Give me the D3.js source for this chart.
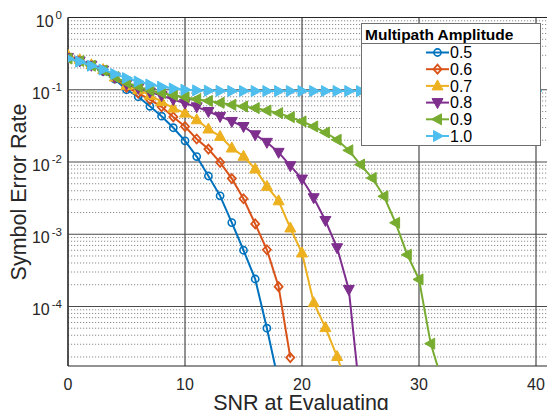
<!DOCTYPE html>
<html lang="en">
<head>
    <meta charset="UTF-8">
    <title>Symbol Error Rate vs SNR</title>
    <script src="https://d3js.org/d3.v7.min.js"></script>
    <style>
        body { margin: 0; background: #fff; }
        svg { display: block; font-family: "Liberation Sans", Arial, sans-serif; }
        .major { stroke: #4a4a4a; stroke-width: 1.2; }
        .minor { stroke: #8c8c8c; stroke-width: 1; stroke-dasharray: 1.2 1.8; }
        .tick-label { font-size: 16px; fill: #262626; }
        .axis-title { font-size: 21.5px; fill: #262626; }
    </style>
</head>
<body>
    <svg width="547" height="410"></svg>

    <script>
        // Series data: symbol error rate at SNR = 0, 1, 2, ... dB
        const amplitudes = ["0.5", "0.6", "0.7", "0.8", "0.9", "1.0"];

        const ser05 = [0.28, 0.25, 0.215, 0.18, 0.14, 0.1, 0.08, 0.059, 0.043, 0.0298,
            0.0196, 0.0119, 0.0064, 0.0034, 0.00145, 0.0006, 0.00024, 0.00005, 0.000009];
        const ser06 = [0.29, 0.255, 0.22, 0.185, 0.145, 0.108, 0.09, 0.073, 0.058, 0.042,
            0.031, 0.0208, 0.0151, 0.0099, 0.0059, 0.0031, 0.00139, 0.00061, 0.000188, 0.0000196];
        const ser07 = [0.3, 0.26, 0.222, 0.19, 0.15, 0.115, 0.1, 0.084, 0.0687, 0.0557,
            0.0475, 0.0384, 0.0286, 0.0226, 0.0156, 0.012, 0.008, 0.0046, 0.0029, 0.00122,
            0.00055, 0.000113, 0.000051, 0.0000203, 0.000007];
        const ser08 = [0.28, 0.25, 0.218, 0.187, 0.15, 0.12, 0.105, 0.093, 0.083, 0.073,
            0.065, 0.058, 0.05, 0.0427, 0.0364, 0.031, 0.0238, 0.0187, 0.0136, 0.0089,
            0.0058, 0.0032, 0.00155, 0.00065, 0.000172, 0.000005];
        const ser09 = [0.27, 0.25, 0.215, 0.185, 0.15, 0.125, 0.11, 0.098, 0.09, 0.084,
            0.079, 0.074, 0.07, 0.066, 0.0618, 0.0586, 0.0557, 0.0516, 0.0475, 0.0418,
            0.0364, 0.031, 0.0256, 0.0203, 0.0145, 0.0092, 0.006, 0.00335, 0.00144, 0.00052,
            0.000237, 0.0000306, 0.000009];
        const ser10 = [0.27, 0.245, 0.215, 0.19, 0.165, 0.145, 0.13, 0.118, 0.11, 0.104,
            0.1, 0.098, 0.097, 0.0965, 0.096, 0.0962, 0.096, 0.0958, 0.096, 0.0961,
            0.096, 0.0959, 0.096, 0.0961, 0.096, 0.0958, 0.096, 0.0961, 0.096, 0.0959,
            0.096, 0.096, 0.0961, 0.096, 0.0959, 0.096, 0.0961, 0.096, 0.096, 0.0959, 0.096];

        const allSeries = [ser05, ser06, ser07, ser08, ser09, ser10];

        const xTicks = [0, 10, 20, 30, 40];
        const yTicks = [1e0, 1e-1, 1e-2, 1e-3, 1e-4];
        const yTickExp = ["0", "-1", "-2", "-3", "-4"];

        const colors = ["#0072BD", "#D95319", "#EDB120", "#7E2F8E", "#77AC30", "#4DBEEE"];
        const markers = ["circle", "diamond", "triUp", "triDown", "triLeft", "triRight"];

        const svg = d3.select("svg");

        const x = d3.scaleLinear().domain([0, 45]).range([68, 68 + 45 * 11.7]);
        const y = d3.scaleLog().domain([1.5e-5, 1]).range([366, 17.5]);
        const pLeft = x(0), pRight = 547, pTop = y(1), pBottom = y.range()[0];

        // minor grid (dotted, y only)
        const minors = [];
        for (let e = -5; e < 0; e++) {
            for (let k = 2; k <= 9; k++) {
                const v = k * Math.pow(10, e);
                if (v > 1.5e-5 && v < 1) minors.push(v);
            }
        }
        svg.append("g").selectAll("line")
            .data(minors)
            .enter().append("line")
            .attr("class", "minor")
            .attr("x1", pLeft).attr("x2", pRight)
            .attr("y1", d => y(d)).attr("y2", d => y(d));

        // major grid
        svg.append("g").selectAll("line")
            .data(yTicks)
            .enter().append("line")
            .attr("class", "major")
            .attr("x1", pLeft).attr("x2", pRight)
            .attr("y1", d => y(d)).attr("y2", d => y(d));
        svg.append("g").selectAll("line")
            .data(xTicks)
            .enter().append("line")
            .attr("class", "major")
            .attr("x1", d => x(d)).attr("x2", d => x(d))
            .attr("y1", pTop).attr("y2", pBottom);

        // axis box
        svg.append("line").attr("x1", pLeft).attr("x2", pLeft).attr("y1", pTop).attr("y2", pBottom)
            .attr("stroke", "#262626").attr("stroke-width", 1.2);
        svg.append("line").attr("x1", pLeft).attr("x2", pRight).attr("y1", pBottom).attr("y2", pBottom)
            .attr("stroke", "#262626").attr("stroke-width", 1.2);
        svg.append("line").attr("x1", pLeft).attr("x2", pRight).attr("y1", pTop).attr("y2", pTop)
            .attr("stroke", "#262626").attr("stroke-width", 1.2);

        // tick labels
        svg.append("g").selectAll("text")
            .data(xTicks)
            .enter().append("text")
            .attr("class", "tick-label")
            .attr("x", d => x(d)).attr("y", pBottom + 24)
            .attr("text-anchor", "middle")
            .text(d => d);

        const yl = svg.append("g").selectAll("text")
            .data(yTicks)
            .enter().append("text")
            .attr("class", "tick-label")
            .attr("x", 62).attr("y", d => y(d) + 9)
            .attr("text-anchor", "end");
        yl.append("tspan").text("10");
        yl.append("tspan").attr("dx", 2).attr("dy", -7.5).style("font-size", "11.5px")
            .text((d, i) => yTickExp[i]);

        // axis titles
        svg.append("text").attr("class", "axis-title")
            .attr("x", x(20) - 1).attr("y", 409.5)
            .attr("text-anchor", "middle")
            .text("SNR at Evaluating");
        svg.append("text").attr("class", "axis-title")
            .attr("transform", "translate(26,192) rotate(-90)")
            .attr("text-anchor", "middle")
            .text("Symbol Error Rate");

        // marker shapes
        function markerPath(type) {
            switch (type) {
                case "diamond": return "M0,-4.5L4,0L0,4.5L-4,0Z";
                case "triUp": return "M0,-6L5.5,4L-5.5,4Z";
                case "triDown": return "M0,6L5.5,-4L-5.5,-4Z";
                case "triLeft": return "M-6,0L4,-5.5L4,5.5Z";
                case "triRight": return "M6,0L-4,-5.5L-4,5.5Z";
            }
            return null;
        }
        function drawMarker(g, type, color) {
            if (type === "circle") {
                g.append("circle").attr("r", 3.6)
                    .attr("fill", "none").attr("stroke", color).attr("stroke-width", 1.6);
            } else if (type === "diamond") {
                g.append("path").attr("d", markerPath(type))
                    .attr("fill", "none").attr("stroke", color).attr("stroke-width", 1.8);
            } else {
                g.append("path").attr("d", markerPath(type))
                    .attr("fill", color).attr("stroke", color).attr("stroke-width", 1);
            }
        }

        svg.append("defs").append("clipPath").attr("id", "plotclip")
            .append("rect").attr("x", pLeft).attr("y", pTop - 10)
            .attr("width", pRight - pLeft).attr("height", pBottom - pTop + 10);

        const plot = svg.append("g").attr("clip-path", "url(#plotclip)");
        const line = d3.line()
            .x((d, i) => x(i))
            .y(d => y(d));

        allSeries.forEach((s, k) => {
            plot.append("path")
                .datum(s)
                .attr("fill", "none")
                .attr("stroke", colors[k])
                .attr("stroke-width", 2)
                .attr("d", line);
            plot.append("g").selectAll("g")
                .data(s.map((v, i) => [i, v]).filter(p => p[1] >= 1.5e-5))
                .enter().append("g")
                .attr("transform", p => `translate(${x(p[0])},${y(p[1])})`)
                .each(function () { drawMarker(d3.select(this), markers[k], colors[k]); });
        });

        // legend
        const lg = svg.append("g");
        lg.append("rect").attr("x", 361.5).attr("y", 23.5).attr("width", 179).attr("height", 122)
            .attr("fill", "#fff").attr("stroke", "#6e6e6e").attr("stroke-width", 1);
        lg.append("line").attr("x1", 361.5).attr("x2", 540.5).attr("y1", 43.5).attr("y2", 43.5)
            .attr("stroke", "#6e6e6e").attr("stroke-width", 1);
        lg.append("text").attr("x", 365).attr("y", 39.5)
            .style("font-size", "15.5px").style("font-weight", "bold").attr("fill", "#000")
            .text("Multipath Amplitude");
        amplitudes.forEach((a, k) => {
            const yy = 52.5 + k * 16.7;
            lg.append("line").attr("x1", 426).attr("x2", 449).attr("y1", yy).attr("y2", yy)
                .attr("stroke", colors[k]).attr("stroke-width", 2);
            drawMarker(lg.append("g").attr("transform", `translate(437.5,${yy})`), markers[k], colors[k]);
            lg.append("text").attr("x", 450).attr("y", yy + 5.8)
                .style("font-size", "16px").attr("fill", "#000")
                .text(a);
        });
    </script>
</body>
</html>
